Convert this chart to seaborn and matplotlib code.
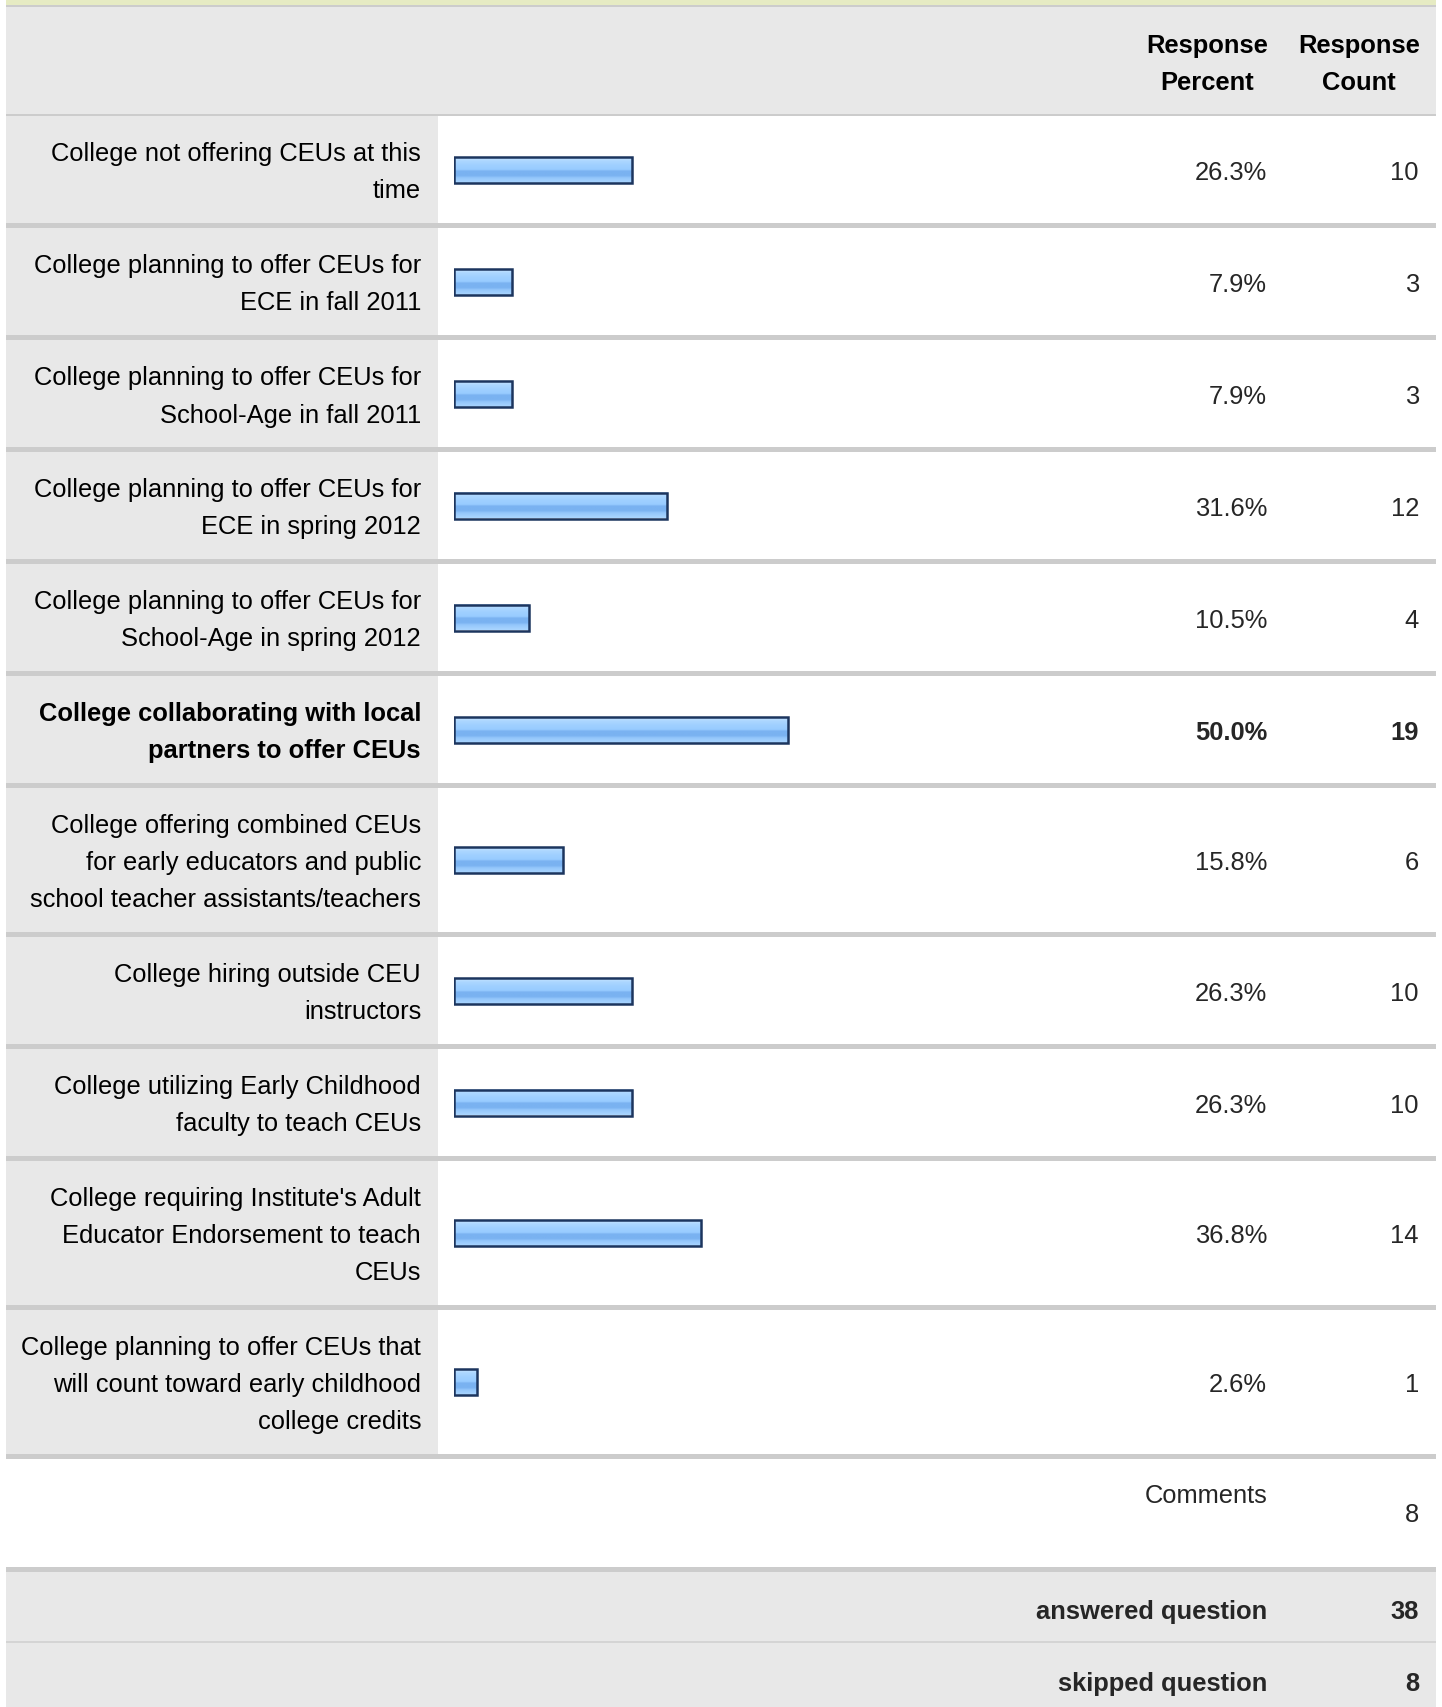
import numpy as np
import matplotlib
matplotlib.use("Agg")
import matplotlib.pyplot as plt
from matplotlib.patches import Rectangle
from matplotlib.colors import to_rgb
import seaborn as sns

# ---- data -------------------------------------------------------------
answer_labels = [
    "College not offering CEUs at this\ntime",
    "College planning to offer CEUs for\nECE in fall 2011",
    "College planning to offer CEUs for\nSchool-Age in fall 2011",
    "College planning to offer CEUs for\nECE in spring 2012",
    "College planning to offer CEUs for\nSchool-Age in spring 2012",
    "College collaborating with local\npartners to offer CEUs",
    "College offering combined CEUs\nfor early educators and public\nschool teacher assistants/teachers",
    "College hiring outside CEU\ninstructors",
    "College utilizing Early Childhood\nfaculty to teach CEUs",
    "College requiring Institute's Adult\nEducator Endorsement to teach\nCEUs",
    "College planning to offer CEUs that\nwill count toward early childhood\ncollege credits",
]
response_percent = [26.3, 7.9, 7.9, 31.6, 10.5, 50.0, 15.8, 26.3, 26.3, 36.8, 2.6]
response_count = [10, 3, 3, 12, 4, 19, 6, 10, 10, 14, 1]
header_percent = "Response\nPercent"
header_count = "Response\nCount"
comments_label = "Comments"
comments_count = 8
answered_label = "answered question"
answered_count = 38
skipped_label = "skipped question"
skipped_count = 8

# ---- page layout (pixels) ---------------------------------------------
W, H = 1442, 1708
DPI = 100
X0, X1 = 6, 1436          # table edges
LABEL_COL = 438           # right edge of the label column
LABEL_RIGHT = 421
BAR_X = 454
BAR_SCALE = 6.56          # pixels per percent
BAR_PAD = 0.88            # bars always start a few pixels left of zero
PCT_RIGHT = 1267
CNT_RIGHT = 1419
LINE_H = 37
SEP = 5
BAR_H = 26

GRAY = "#e8e8e8"
RULE = "#cccccc"
EDGE = "#1c355e"
FS = 18.4

sns.set_style("white")
plt.rcParams["font.family"] = ["Liberation Sans", "DejaVu Sans"]

fig = plt.figure(figsize=(W / DPI, H / DPI), dpi=DPI)
ax = fig.add_axes([0, 0, 1, 1])
ax.set_xlim(0, W)
ax.set_ylim(H, 0)
ax.axis("off")


def rect(x0, y0, x1, y1, color, z=0):
    ax.add_patch(Rectangle((x0, y0), x1 - x0, y1 - y0, facecolor=color,
                           edgecolor="none", zorder=z))


def lines_text(x, yc, text, **kw):
    parts = text.split("\n")
    n = len(parts)
    for i, part in enumerate(parts):
        y = yc + (i - (n - 1) / 2) * LINE_H
        ax.text(x, y, part, va="center_baseline", fontsize=FS, color="black",
                zorder=5, **kw)


# top band and header
rect(X0, 0, X1, 6, "#e6ebc3")
rect(X0, 6, X1, 8, RULE)
rect(X0, 8, X1, 115, GRAY)
rect(X0, 115, X1, 117, RULE)
lines_text(1207, 61.5, header_percent, ha="center", fontweight="bold")
lines_text(1359, 61.5, header_count, ha="center", fontweight="bold")

# answer rows
best = int(np.argmax(response_percent))
centers = []
y = 117
for i, lab in enumerate(answer_labels):
    n = lab.count("\n") + 1
    h = 33 + LINE_H * n
    rect(X0, y, LABEL_COL, y + h, GRAY)
    rect(LABEL_COL, y, X1, y + h, "white")
    rect(X0, y + h, X1, y + h + SEP, RULE)
    yc = y + h / 2
    centers.append(yc)
    weight = "bold" if i == best else "normal"
    lines_text(LABEL_RIGHT, yc, lab, ha="right", fontweight=weight)
    ax.text(PCT_RIGHT, yc, f"{response_percent[i]:.1f}%", ha="right",
            va="center_baseline", fontsize=FS, fontweight=weight, zorder=5)
    ax.text(CNT_RIGHT, yc, f"{response_count[i]}", ha="right",
            va="center_baseline", fontsize=FS, fontweight=weight, zorder=5)
    y += h + SEP

# comments row
ax.text(PCT_RIGHT, y + 34, comments_label, ha="right", va="center_baseline",
        fontsize=FS, zorder=5)
ax.text(CNT_RIGHT, y + 53, f"{comments_count}", ha="right",
        va="center_baseline", fontsize=FS, zorder=5)
y += 108
rect(X0, y, X1, y + SEP, RULE)
y += SEP

# summary rows
rect(X0, y, X1, y + 69, GRAY)
ax.text(PCT_RIGHT, y + 37, answered_label, ha="right", va="center_baseline",
        fontsize=FS, fontweight="bold", zorder=5)
ax.text(CNT_RIGHT, y + 37, f"{answered_count}", ha="right",
        va="center_baseline", fontsize=FS, fontweight="bold", zorder=5)
y += 69
rect(X0, y, X1, y + 2, "#d4d4d4")
y += 2
rect(X0, y, X1, H, GRAY)
ax.text(PCT_RIGHT, y + 38, skipped_label, ha="right", va="center_baseline",
        fontsize=FS, fontweight="bold", zorder=5)
ax.text(CNT_RIGHT, y + 38, f"{skipped_count}", ha="right",
        va="center_baseline", fontsize=FS, fontweight="bold", zorder=5)

# ---- bars: percent scale on an overlay axes ---------------------------
bar_width_px = (100 + BAR_PAD) * BAR_SCALE
bax = fig.add_axes([BAR_X / W, 0, bar_width_px / W, 1])
bax.patch.set_alpha(0)
sns.barplot(x=response_percent, y=centers, orient="h", native_scale=True,
            width=BAR_H / np.min(np.diff(centers)), color="#99ccff",
            edgecolor=EDGE, linewidth=1.8, ax=bax)
bax.axis("off")

# glossy horizontal banding inside every bar
stops = [(0.00, "#c9e5ff"), (0.14, "#add7ff"), (0.30, "#a0d0ff"),
         (0.48, "#98cbff"), (0.54, "#7ab2f1"), (0.72, "#7ab2f1"),
         (0.80, "#93c6fb"), (1.00, "#aad6ff")]
pos = np.linspace(0, 1, 64)
grad = np.stack([np.interp(pos, [s for s, _ in stops],
                           [to_rgb(c)[k] for _, c in stops])
                 for k in range(3)], axis=-1)[:, None, :]
for p in list(bax.patches):
    p.set_x(-BAR_PAD)
    p.set_width(p.get_width() + BAR_PAD)
    px, py, pw, ph = p.get_x(), p.get_y(), p.get_width(), p.get_height()
    p.set_facecolor("none")
    p.set_zorder(3)
    bax.imshow(grad, extent=(px, px + pw, py + ph, py), aspect="auto",
               interpolation="bilinear", zorder=2)
bax.set_xlim(-BAR_PAD, 100)
bax.set_ylim(H, 0)

fig.savefig("out.png", dpi=DPI)
